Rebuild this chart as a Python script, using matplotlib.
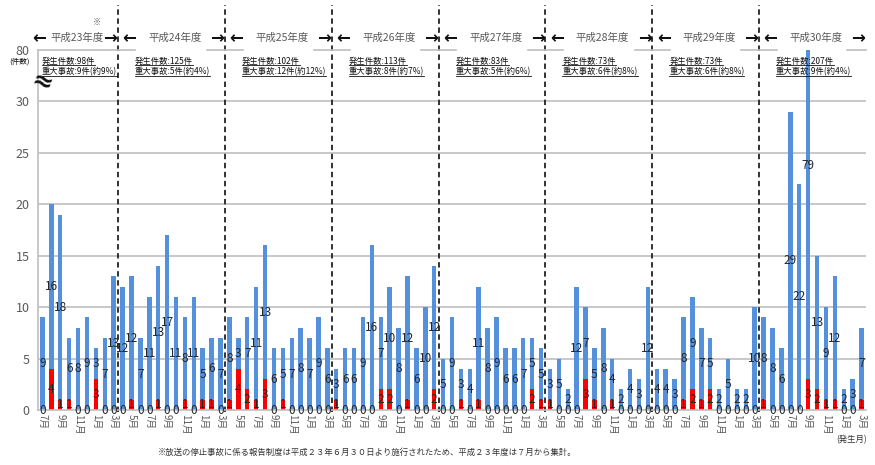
import matplotlib
matplotlib.use('Agg')
import numpy as np
import matplotlib.pyplot as plt
import matplotlib.transforms as mtransforms
from matplotlib.lines import Line2D

plt.rcParams['font.family'] = ['Noto Sans CJK JP', 'DejaVu Sans']

# ── data ────────────────────────────────────────────────────────────────
# fiscal years (H23 starts in July)
years = ['平成23年度', '平成24年度', '平成25年度', '平成26年度',
         '平成27年度', '平成28年度', '平成29年度', '平成30年度']
months_per_year = [9, 12, 12, 12, 12, 12, 12, 12]
months = [7, 8, 9, 10, 11, 12, 1, 2, 3] + [4, 5, 6, 7, 8, 9, 10, 11, 12, 1, 2, 3] * 7

# all accidents per month
total = [9, 20, 19, 7, 8, 9, 6, 7, 13,
         12, 13, 7, 11, 14, 17, 11, 9, 11, 6, 7, 7,
         9, 7, 9, 12, 16, 6, 6, 7, 8, 7, 9, 6,
         4, 6, 6, 9, 16, 9, 12, 8, 13, 6, 10, 14,
         5, 9, 4, 4, 12, 8, 9, 6, 6, 7, 7, 6,
         4, 5, 2, 12, 10, 6, 8, 5, 2, 4, 3, 12,
         4, 4, 3, 9, 11, 8, 7, 2, 5, 2, 2, 10,
         9, 8, 6, 29, 22, 82, 15, 10, 13, 2, 3, 8]
# serious accidents per month
serious = [0, 4, 1, 1, 0, 0, 3, 0, 0,
           0, 1, 0, 0, 1, 0, 0, 1, 0, 1, 1, 0,
           1, 4, 2, 1, 3, 0, 1, 0, 0, 0, 0, 0,
           1, 0, 0, 0, 0, 2, 2, 0, 1, 0, 0, 2,
           0, 0, 1, 0, 1, 0, 0, 0, 0, 0, 2, 1,
           1, 0, 0, 0, 3, 1, 0, 1, 0, 0, 0, 0,
           0, 0, 0, 1, 2, 1, 2, 0, 0, 0, 0, 0,
           1, 0, 0, 0, 0, 3, 2, 1, 1, 0, 0, 1]

# summary boxes per fiscal year
sum_total = [98, 125, 102, 113, 83, 73, 73, 207]
sum_serious = [9, 5, 12, 8, 5, 6, 6, 9]
sum_pct = [9, 4, 12, 7, 6, 8, 8, 4]

yticks = [0, 5, 10, 15, 20, 25, 30, 35]
ytick_labels = ['0', '5', '10', '15', '20', '25', '30', '80']

# ── figure ──────────────────────────────────────────────────────────────
W, H = 875, 465
fig = plt.figure(figsize=(W / 100, H / 100), dpi=100)
ax = fig.add_axes([38 / W, 1 - 410 / H, 828 / W, 360 / H])

total = np.array(total)
serious = np.array(serious)
blue = total - serious
x = np.arange(len(total))

c_blue = '#5590dc'
c_red = '#ff0000'
ax.bar(x, serious, width=0.5, color=c_red, zorder=2)
ax.bar(x, blue, bottom=serious, width=0.5, color=c_blue, zorder=2)

ax.set_xlim(-0.5, len(total) - 0.5)
ax.set_ylim(0, 35)

# horizontal grid (not at the broken top)
ax.hlines(yticks[1:-1], -0.5, len(total) - 0.5, color='#bfbfbf', lw=1.2, zorder=0)

ax.set_yticks(yticks)
ax.set_yticklabels(ytick_labels, fontsize=9, color='#595959')
ax.tick_params(axis='y', length=0, pad=6)

ax.set_xticks(x[::2])
ax.set_xticklabels([f'{m}月' for m in months[::2]], rotation=-90,
                   fontsize=7, color='#595959')
ax.tick_params(axis='x', length=0, pad=3)

for s in ['top', 'right']:
    ax.spines[s].set_visible(False)
for s in ['left', 'bottom']:
    ax.spines[s].set_color('#bfbfbf')
    ax.spines[s].set_linewidth(1.2)

# value labels
label_cap = 44.5
for xi, t, r, b in zip(x, total, serious, blue):
    yb = (r + min(t, label_cap)) / 2
    ax.text(xi, yb, str(b), ha='center', va='center', fontsize=8.5,
            color='#262626', zorder=4)
    yr = r / 2 if r > 0 else 0
    ax.text(xi, yr, str(r), ha='center', va='center', fontsize=8.5,
            color='#262626', zorder=4)

# ── fiscal year dividers, headers, summaries ────────────────────────────
bt = mtransforms.blended_transform_factory(ax.transData, fig.transFigure)
edges = np.concatenate([[0], np.cumsum(months_per_year)]) - 0.5
for b in edges[1:-1]:
    ax.add_line(Line2D([b, b], [1 - 412 / H, 1 - 5 / H], transform=bt,
                       color='#222222', lw=1.3, ls=(0, (3, 2)), clip_on=False))

# top line (pieces not hidden by the header boxes)
segs = [(edges[0], edges[1] + 1.9)] + [(b - 2, b + 2) for b in edges[2:-1]] + \
       [(edges[-1] - 2.1, edges[-1])]
for a0, a1 in segs:
    ax.plot([a0, a1], [35, 35], color='#bfbfbf', lw=1.2, clip_on=False)

hy = 1 - 38 / H
summary_texts = []
for i, name in enumerate(years):
    e0, e1 = edges[i], edges[i + 1]
    left = e0 - 0.6 if i == 0 else e0 + 0.5
    right = e1 - 0.1
    ax.text(left, hy, '←', transform=bt, ha='left', va='center',
            fontsize=12, fontweight='bold', color='#111111',
            family='DejaVu Sans')
    ax.text(right, hy, '→', transform=bt, ha='right', va='center',
            fontsize=12, fontweight='bold', color='#111111',
            family='DejaVu Sans')
    ax.text((left + right) / 2 + 0.2, hy, name, transform=bt, ha='center',
            va='center', fontsize=7.5, color='#595959')
    sx = e0 + 0.4 if i == 0 else e0 + 1.9
    t1 = ax.text(sx, 1 - 61 / H, f'発生件数:{sum_total[i]}件', transform=bt,
                 ha='left', va='center', fontsize=6, color='#111111', zorder=5)
    t2 = ax.text(sx, 1 - 72 / H,
                 f'重大事故:{sum_serious[i]}件(約{sum_pct[i]}%)', transform=bt,
                 ha='left', va='center', fontsize=6, color='#111111', zorder=5)
    summary_texts += [t1, t2]

fig.text(97 / W, 1 - 22 / H, '※', ha='center', va='center', fontsize=6,
         color='#595959')
fig.text(20 / W, 1 - 62 / H, '(件数)', ha='center', va='center', fontsize=5.5,
         color='#111111')
fig.text(42 / W, 1 - 84 / H, '≈', ha='center', va='center', fontsize=18,
         fontweight='bold', rotation=-20, color='#111111', family='DejaVu Sans')
fig.text(852 / W, 1 - 440 / H, '(発生月)', ha='center', va='center',
         fontsize=6, color='#333333')
fig.text(367 / W, 1 - 452 / H,
         '※放送の停止事故に係る報告制度は平成２３年６月３０日より施行されたため、'
         '平成２３年度は７月から集計。',
         ha='center', va='center', fontsize=6, color='#333333')

# underline the summary texts
fig.canvas.draw()
renderer = fig.canvas.get_renderer()
inv = fig.transFigure.inverted()
for t in summary_texts:
    bb = t.get_window_extent(renderer)
    (x0, y0), (x1, _) = inv.transform([(bb.x0, bb.y0 + 1), (bb.x1, bb.y0 + 1)])
    fig.add_artist(Line2D([x0, x1], [y0, y0], transform=fig.transFigure,
                          color='#111111', lw=0.6))

fig.savefig('out.png', dpi=100)
